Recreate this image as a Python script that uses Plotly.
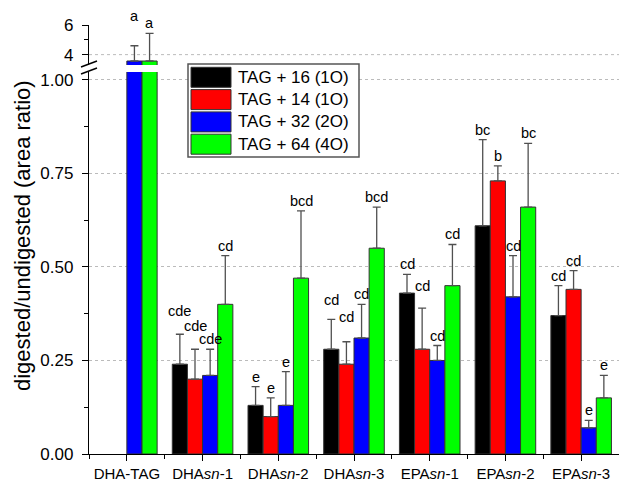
import plotly.graph_objects as go

# ---------------- data ----------------
categories = ["DHA-TAG", "DHA<i>sn</i>-1", "DHA<i>sn</i>-2", "DHA<i>sn</i>-3",
              "EPA<i>sn</i>-1", "EPA<i>sn</i>-2", "EPA<i>sn</i>-3"]
series_names = ["TAG + 16 (1O)", "TAG + 14 (1O)", "TAG + 32 (2O)", "TAG + 64 (4O)"]
series_colors = ["#000000", "#ff0000", "#0000ff", "#00ff00"]

black_vals = [None, 0.24, 0.13, 0.28, 0.43, 0.61, 0.37]
black_err = [None, 0.08, 0.05, 0.08, 0.05, 0.23, 0.08]
red_vals = [None, 0.20, 0.10, 0.24, 0.28, 0.73, 0.44]
red_err = [None, 0.08, 0.05, 0.06, 0.11, 0.04, 0.05]
blue_vals = [3.57, 0.21, 0.13, 0.31, 0.25, 0.42, 0.07]
blue_err = [1.03, 0.07, 0.09, 0.09, 0.04, 0.11, 0.02]
green_vals = [3.57, 0.40, 0.47, 0.55, 0.45, 0.66, 0.15]
green_err = [1.87, 0.13, 0.18, 0.11, 0.11, 0.17, 0.06]

black_letters = [None, "cde", "e", "cd", "cd", "bc", "cd"]
red_letters = [None, "cde", "e", "cd", "cd", "b", "cd"]
blue_letters = ["a", "cde", "e", "cd", "cd", "cd", "e"]
green_letters = ["a", "cd", "bcd", "bcd", "cd", "bc", "e"]

values = [black_vals, red_vals, blue_vals, green_vals]
errors = [black_err, red_err, blue_err, green_err]
letters = [black_letters, red_letters, blue_letters, green_letters]

# extra lift (px) of some significance letters, as placed in the original
letter_lift = {(0, 1): 13, (1, 1): 13, (0, 3): 9, (1, 3): 15, (1, 4): 12, (2, 0): 20}

LOW_MAX = 1.021
UP_MIN, UP_MAX = 3.3, 6.0
FONT = "Arial, Liberation Sans, sans-serif"

# ---------------- geometry helpers (pixel -> paper) ----------------
W, H = 619, 484
ML, MR, MT, MB = 89, 0, 25, 30
PW, PH = W - ML - MR, H - MT - MB


def px(x):
    return (x - ML) / PW


def py(y):
    return (H - MB - y) / PH


fig = go.Figure()
xs = list(range(len(categories)))
bw = 0.2

for i, (name, col) in enumerate(zip(series_names, series_colors)):
    off = -0.4 + bw * i
    vals, errs = values[i], errors[i]
    # lower panel
    fig.add_trace(go.Bar(
        x=xs, y=vals, width=bw, offset=off, name=name,
        marker=dict(color=col, line=dict(color="#333333", width=1)),
        error_y=dict(type="data", symmetric=False, array=errs,
                     arrayminus=[0] * len(vals), color="#505050",
                     thickness=1.3, width=4),
        xaxis="x", yaxis="y", showlegend=False, cliponaxis=True))
    # upper panel (only bars reaching above the break)
    up_idx = [k for k, v in enumerate(vals) if v is not None and v > UP_MIN]
    if up_idx:
        fig.add_trace(go.Bar(
            x=[xs[k] for k in up_idx], y=[vals[k] for k in up_idx],
            width=bw, offset=off, name=name,
            marker=dict(color=col, line=dict(color="#333333", width=1)),
            error_y=dict(type="data", symmetric=False,
                         array=[errs[k] for k in up_idx],
                         arrayminus=[0] * len(up_idx), color="#505050",
                         thickness=1.3, width=4),
            xaxis="x2", yaxis="y2", showlegend=False))

# significance letters
annotations = []
for i in range(4):
    off = -0.4 + bw * i + bw / 2
    for k, lab in enumerate(letters[i]):
        if lab is None or values[i][k] is None:
            continue
        top = values[i][k] + errors[i][k]
        annotations.append(dict(
            x=xs[k] + off, y=top, xref="x", yref="y2" if top > UP_MIN else "y",
            text=lab, showarrow=False, xanchor="center", yanchor="bottom",
            yshift=letter_lift.get((i, k), 0),
            font=dict(size=14.5, color="black", family=FONT)))

# y-axis title
annotations.append(dict(
    x=px(22), y=py(236), xref="paper", yref="paper",
    text="digested/undigested (area ratio)", textangle=-90, showarrow=False,
    xanchor="center", yanchor="middle",
    font=dict(size=22, color="black", family=FONT)))

# custom legend
shapes = []
shapes.append(dict(type="rect", xref="paper", yref="paper",
                   x0=px(188), x1=px(359), y0=py(157), y1=py(64),
                   line=dict(color="#555555", width=1.5), fillcolor="white", layer="above"))
for i, (name, col) in enumerate(zip(series_names, series_colors)):
    top = 67.3 + 22.3 * i
    shapes.append(dict(type="rect", xref="paper", yref="paper",
                       x0=px(191), x1=px(231), y0=py(top + 20), y1=py(top),
                       line=dict(color="#333333", width=1), fillcolor=col, layer="above"))
    annotations.append(dict(x=px(236), y=py(top + 10), xref="paper", yref="paper",
                            text=name, showarrow=False, xanchor="left", yanchor="middle",
                            font=dict(size=17, color="black", family=FONT)))

# gridline of the upper panel
shapes.append(dict(type="line", xref="paper", yref="y2", x0=0, x1=1, y0=4, y1=4,
                   line=dict(color="#bbbbbb", width=1, dash="dot"), layer="below"))

# axis break marks
for (x0, y0, x1, y1) in [(81, 67, 97, 61), (81, 74, 97, 68)]:
    shapes.append(dict(type="line", xref="paper", yref="paper",
                       x0=px(x0), y0=py(y0), x1=px(x1), y1=py(y1),
                       line=dict(color="black", width=1.4)))

low_top = (H - MB - 72) / PH
up_bot = (H - MB - 65) / PH

fig.update_layout(
    width=W, height=H,
    margin=dict(l=ML, r=MR, t=MT, b=MB, pad=0),
    paper_bgcolor="white", plot_bgcolor="white",
    font=dict(family=FONT, color="black"),
    barmode="overlay",
    showlegend=False,
    xaxis=dict(range=[-0.5, 6.5], tickvals=xs, ticktext=categories,
               ticks="outside", ticklen=6, tickwidth=1.3, tickcolor="black",
               showline=True, linecolor="black", linewidth=1.3,
               showgrid=False, zeroline=False, anchor="y",
               tickfont=dict(size=15, color="black"),
               minor=dict(tickvals=[k - 0.5 for k in range(len(categories) + 1)],
                          ticks="outside", ticklen=4, tickwidth=1.3, tickcolor="black",
                          showgrid=False)),
    xaxis2=dict(matches="x", anchor="y2", visible=False, range=[-0.5, 6.5]),
    yaxis=dict(domain=[0, low_top], range=[0, LOW_MAX],
               tickvals=[0, 0.25, 0.5, 0.75, 1.0],
               ticktext=["0.00", "0.25", "0.50", "0.75", "1.00"],
               ticks="outside", ticklen=6, tickwidth=1.3, tickcolor="black",
               ticklabelstandoff=5,
               showline=True, linecolor="black", linewidth=1.3,
               showgrid=True, gridcolor="#bbbbbb", griddash="dot", gridwidth=1,
               zeroline=False, tickfont=dict(size=17, color="black"),
               minor=dict(dtick=0.125, ticks="outside", ticklen=4, tickwidth=1.3,
                          tickcolor="black", showgrid=False)),
    yaxis2=dict(domain=[up_bot, 1], range=[UP_MIN, UP_MAX], anchor="x2",
                tickvals=[4, 6], ticktext=["4", "6"],
                ticks="outside", ticklen=6, tickwidth=1.3, tickcolor="black",
                ticklabelstandoff=5,
                showline=True, linecolor="black", linewidth=1.3,
                showgrid=False, zeroline=False, tickfont=dict(size=17, color="black"),
                minor=dict(tickvals=[5], ticks="outside", ticklen=4, tickwidth=1.3,
                           tickcolor="black", showgrid=False)),
    annotations=annotations,
    shapes=shapes,
)

fig.write_html(
    "out.html",
    config={"displayModeBar": False},
    post_script="document.body.style.margin='0';document.body.style.padding='0';"
                "document.body.style.overflow='hidden';",
)
